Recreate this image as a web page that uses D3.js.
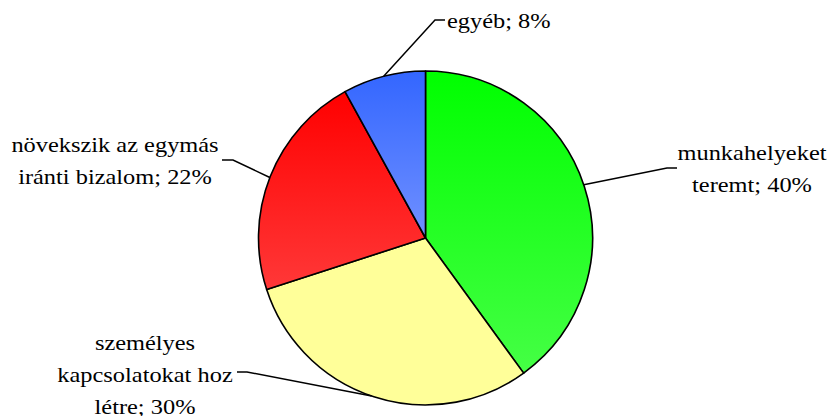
<!DOCTYPE html>
<html><head><meta charset="utf-8">
<script src="https://cdn.jsdelivr.net/npm/d3@7"></script>
<style>body{margin:0;background:#fff}svg{display:block}</style>
</head><body>
<svg id="chart" width="827" height="416"></svg>
<script>
const categories = ["munkahelyeket teremt", "személyes kapcsolatokat hoz létre", "növekszik az egymás iránti bizalom", "egyéb"];
const values = [40, 30, 22, 8];
const labelLines = [
  ["munkahelyeket", "teremt; 40%"],
  ["személyes", "kapcsolatokat hoz", "létre; 30%"],
  ["növekszik az egymás", "iránti bizalom; 22%"],
  ["egyéb; 8%"]
];
const colorTop = ["#00ff00", "#ffff99", "#ff0000", "#3366ff"];
const colorBottom = ["#45ff45", "#ffff99", "#ff3838", "#7090ff"];

const svg = d3.select("#chart");
const cx = 425.5, cy = 238, r = 167;

const defs = svg.append("defs");
values.forEach((v, i) => {
  const g = defs.append("linearGradient").attr("id", "grad" + i)
    .attr("x1", 0).attr("y1", 0).attr("x2", 0).attr("y2", 1);
  g.append("stop").attr("offset", 0).attr("stop-color", colorTop[i]);
  g.append("stop").attr("offset", 1).attr("stop-color", colorBottom[i]);
});

const pie = d3.pie().sort(null).value(d => d);
const arcs = pie(values);
const arc = d3.arc().innerRadius(0).outerRadius(r);

const g = svg.append("g").attr("transform", `translate(${cx},${cy})`);
g.selectAll("path").data(arcs).join("path")
  .attr("d", arc)
  .attr("fill", (d, i) => `url(#grad${i})`)
  .attr("stroke", "#000").attr("stroke-width", 1.6).attr("stroke-linejoin", "round");

const labelAnchors = [
  {x: 752, y: 160, elbow: [667, 168], end: [677, 168]},
  {x: 145, y: 350, elbow: [247, 372], end: [237, 372]},
  {x: 115, y: 152, elbow: [233, 160], end: [222, 160]},
  {x: 447, y: 28, elbow: [435, 20], end: [445, 20], anchor: "start"}
];
const leaderAngles = [1.246, 3.47, 5.083, 6.03];
const stretch = 1.22;

arcs.forEach((a, i) => {
  const la = labelAnchors[i];
  const ang = leaderAngles[i];
  const sx = cx + r * Math.sin(ang), sy = cy - r * Math.cos(ang);
  svg.append("polyline")
    .attr("points", [[sx, sy], la.elbow, la.end].map(p => p.join(",")).join(" "))
    .attr("fill", "none").attr("stroke", "#000").attr("stroke-width", 1.5);
  const t = svg.append("text")
    .attr("transform", `translate(${la.x},${la.y}) scale(${stretch},1)`)
    .style("font-family", '"Liberation Serif"')
    .style("font-size", "20px")
    .attr("fill", "#000")
    .attr("text-anchor", la.anchor || "middle");
  labelLines[i].forEach((line, j) => {
    t.append("tspan").attr("x", 0).attr("y", j * 32).text(line);
  });
});
</script>
</body></html>
